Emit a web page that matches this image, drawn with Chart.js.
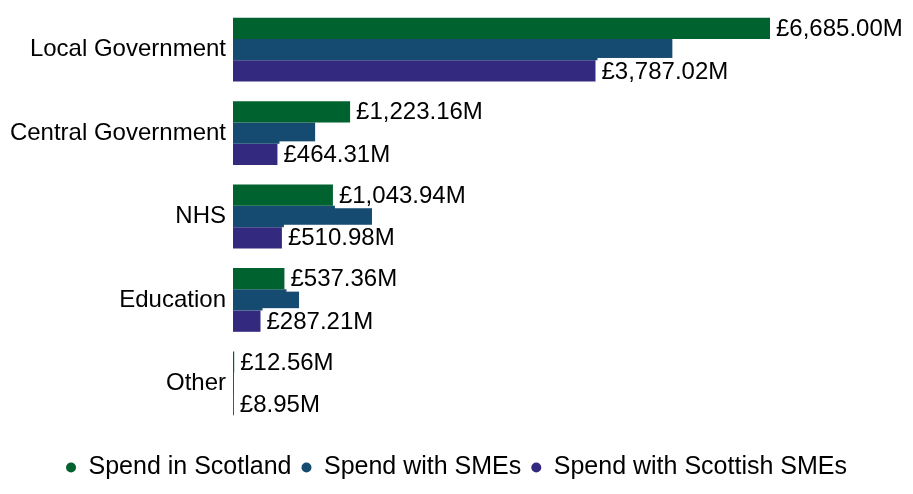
<!DOCTYPE html>
<html>
<head>
<meta charset="utf-8">
<script src="https://cdn.jsdelivr.net/npm/chart.js@4"></script>
<style>
  html, body { margin: 0; padding: 0; background: #fff; }
  #wrap { width: 913px; height: 494px; }
</style>
</head>
<body>
<div id="wrap"><canvas id="spendChart" width="913" height="494"></canvas></div>
<script>
// Sector categories and spend (in £M)
const sectors = ['Local Government', 'Central Government', 'NHS', 'Education', 'Other'];
const spendScotland = [6685.00, 1223.16, 1043.94, 537.36, 12.56];
const spendSMEs = [4590, 858, 1452, 690, 10];
const spendScottishSMEs = [3787.02, 464.31, 510.98, 287.21, 8.95];
const seriesNames = ['Spend in Scotland', 'Spend with SMEs', 'Spend with Scottish SMEs'];

const FONT = '"Liberation Sans", Arial, sans-serif';

function formatMoney(v) {
    return '£' + v.toLocaleString('en-GB', { minimumFractionDigits: 2, maximumFractionDigits: 2 }) + 'M';
}

// draws value labels with a white box behind them (series 0 and 2 only)
const valueLabels = {
    id: 'valueLabels',
    afterDatasetsDraw(chart) {
        const ctx = chart.ctx;
        const area = chart.chartArea;
        ctx.save();
        ctx.font = '24px ' + FONT;
        ctx.textBaseline = 'middle';
        ctx.textAlign = 'left';
        [0, 2].forEach(di => {
            const meta = chart.getDatasetMeta(di);
            meta.data.forEach((bar, i) => {
                const txt = formatMoney(chart.data.datasets[di].data[i]);
                const end = Math.min(bar.x, area.right);
                const w = ctx.measureText(txt).width;
                ctx.fillStyle = '#fff';
                ctx.fillRect(end + 2, bar.y - 13, w + 8, 26);
                ctx.fillStyle = '#000';
                ctx.fillText(txt, end + 6, bar.y + 1);
            });
        });
        ctx.restore();
    }
};

new Chart(document.getElementById('spendChart'), {
    type: 'bar',
    data: {
        labels: sectors,
        datasets: [
            { label: seriesNames[0], data: spendScotland, backgroundColor: '#00622E' },
            { label: seriesNames[1], data: spendSMEs, backgroundColor: '#154B71' },
            { label: seriesNames[2], data: spendScottishSMEs, backgroundColor: '#332A80' }
        ]
    },
    options: {
        indexAxis: 'y',
        responsive: false,
        animation: false,
        categoryPercentage: 0.765,
        barPercentage: 1,
        layout: { padding: { left: 0, right: 0, top: 8, bottom: 4 } },
        scales: {
            x: {
                min: 0,
                max: 5610,
                grid: { display: false },
                border: { display: false },
                ticks: { display: false },
                afterFit: s => { s.height = 20; s.paddingLeft = 0; s.paddingRight = 0; }
            },
            y: {
                grid: { display: false, tickLength: 0 },
                border: { display: false },
                ticks: { color: '#000', font: { family: FONT, size: 24 }, padding: 7 },
                afterFit: s => { s.width = 233; s.paddingTop = 0; s.paddingBottom = 0; }
            },
            // empty axis on the right that keeps room for the value labels
            yRight: {
                type: 'category',
                position: 'right',
                grid: { display: false },
                border: { display: false },
                ticks: { display: false },
                afterFit: s => { s.width = 143; s.paddingTop = 0; s.paddingBottom = 0; }
            }
        },
        plugins: {
            legend: {
                position: 'bottom',
                labels: {
                    color: '#000',
                    font: { family: FONT, size: 25 },
                    usePointStyle: true,
                    pointStyle: 'circle',
                    pointStyleWidth: 10,
                    boxHeight: 7,
                    padding: 10
                }
            },
            tooltip: { enabled: false }
        }
    },
    plugins: [valueLabels]
});
</script>
</body>
</html>
